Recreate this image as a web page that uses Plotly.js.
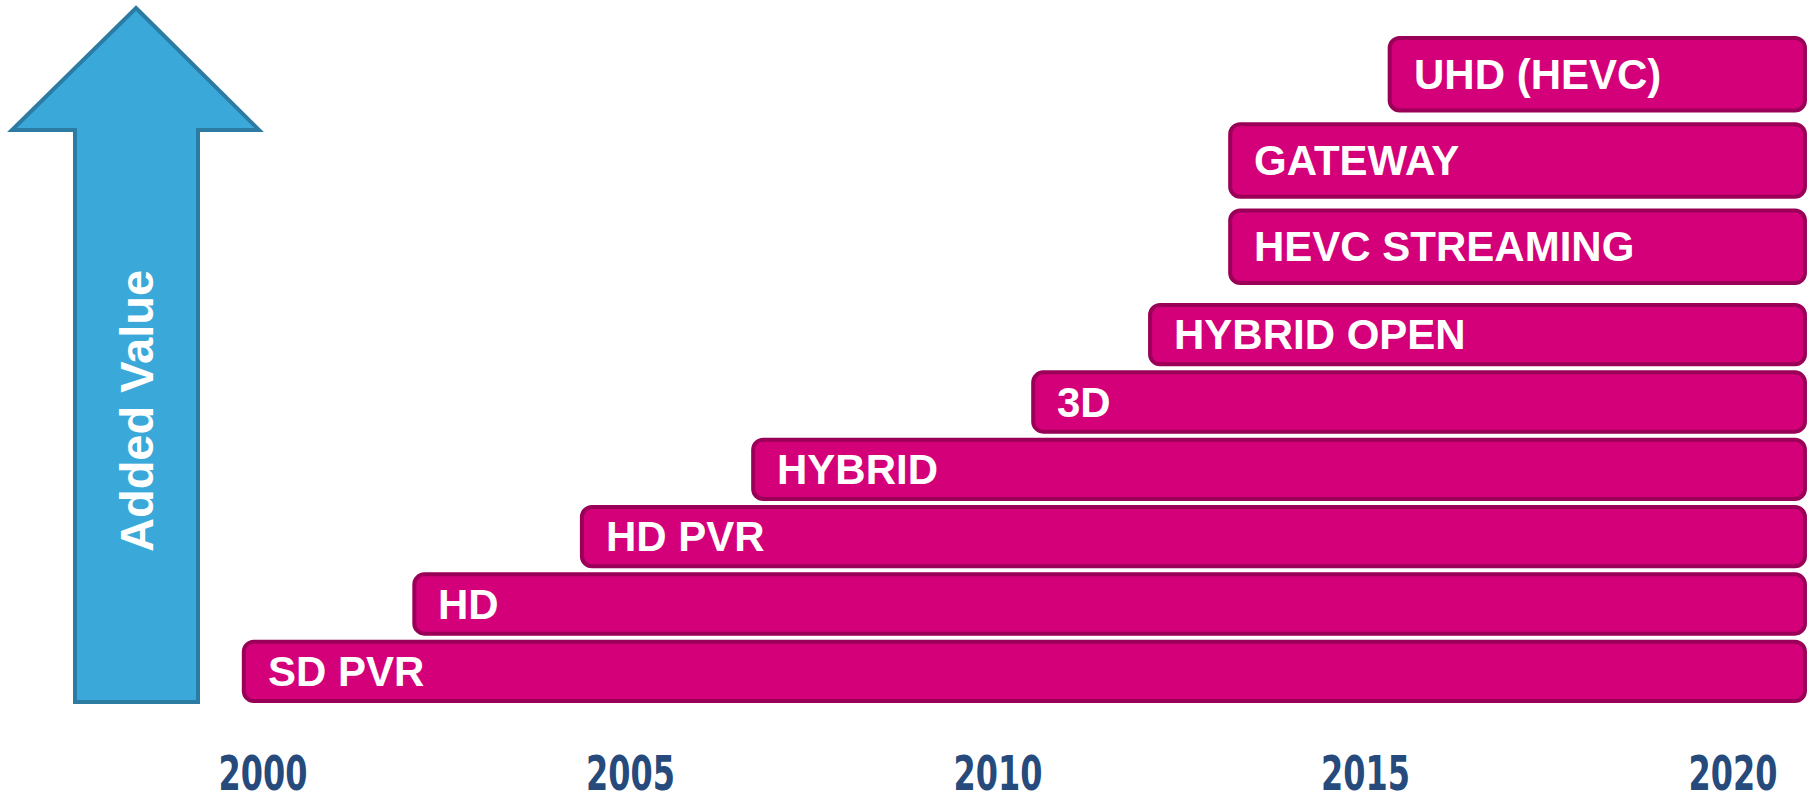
<!DOCTYPE html>
<html>
<head>
<meta charset="utf-8">
<script src="https://cdn.plot.ly/plotly-3.0.1.min.js"></script>
<style>html,body{margin:0;padding:0;background:#fff;}#chart{width:1819px;height:804px;}</style>
</head>
<body>
<div id="chart"></div>
<script>
// ---- data ----
var labels    = ['SD PVR', 'HD', 'HD PVR', 'HYBRID', '3D', 'HYBRID OPEN', 'HEVC STREAMING', 'GATEWAY', 'UHD (HEVC)'];
var startYear = [1999.74, 2002.06, 2004.34, 2006.67, 2010.48, 2012.07, 2013.16, 2013.16, 2015.33];
var endYear   = [2020.98, 2020.98, 2020.98, 2020.98, 2020.98, 2020.98, 2020.98, 2020.98, 2020.98];
var tickYears = [2000, 2005, 2010, 2015, 2020];
var axisTitle = 'Added Value';

// ---- layout helpers ----
var W = 1819, H = 804;
function px(x) { return x / W; }
function py(y) { return 1 - y / H; }

var barFill = '#D4007A', barLine = '#9B0058';
var nBottom = 6;

function makeTrace(idx, yax, width) {
  return {
    type: 'bar', orientation: 'h',
    y: idx.map(function (i) { return labels[i]; }),
    x: idx.map(function (i) { return endYear[i] - startYear[i]; }),
    base: idx.map(function (i) { return startYear[i]; }),
    xaxis: 'x', yaxis: yax, width: width,
    marker: { color: barFill, line: { color: barLine, width: 4 }, cornerradius: 10 },
    hoverinfo: 'skip', showlegend: false
  };
}
var bottomIdx = [], topIdx = [];
labels.forEach(function (l, i) { (i < nBottom ? bottomIdx : topIdx).push(i); });

var traces = [makeTrace(bottomIdx, 'y2', 0.88), makeTrace(topIdx, 'y', 0.84)];

var annotations = labels.map(function (l, i) {
  return {
    x: startYear[i], y: l, xref: 'x', yref: i < nBottom ? 'y2' : 'y',
    text: l, showarrow: false, xanchor: 'left', yanchor: 'middle', xshift: 22,
    font: { family: 'Liberation Sans, Arial, sans-serif', size: 42, color: '#ffffff', weight: 'bold' }
  };
});
annotations.push({
  x: px(136), y: py(411), xref: 'paper', yref: 'paper', text: axisTitle,
  textangle: -90, showarrow: false, xanchor: 'center', yanchor: 'middle',
  font: { family: 'Liberation Sans, Arial, sans-serif', size: 47, color: '#ffffff', weight: 'bold' }
});

var arrowPts = [[136, 8], [259, 130], [198, 130], [198, 702], [75, 702], [75, 130], [12, 130]];
var arrowPath = 'M ' + arrowPts.map(function (p) { return px(p[0]) + ',' + py(p[1]); }).join(' L ') + ' Z';

var layout = {
  width: W, height: H,
  margin: { l: 0, r: 0, t: 0, b: 0 },
  paper_bgcolor: '#ffffff', plot_bgcolor: '#ffffff',
  showlegend: false, hovermode: false,
  barmode: 'overlay',
  xaxis: {
    range: [1996.423, 2021.171], anchor: 'y2',
    tickmode: 'array', tickvals: tickYears, ticktext: tickYears.map(String),
    ticks: '', ticklabelstandoff: 36,
    tickfont: { family: 'DejaVu Sans Condensed, DejaVu Sans, sans-serif', size: 48, color: '#254A7B', weight: 'bold' },
    showgrid: false, zeroline: false, showline: false, fixedrange: true
  },
  yaxis: {
    domain: [py(290), py(31)], type: 'category',
    showticklabels: false, showgrid: false, zeroline: false, showline: false, fixedrange: true
  },
  yaxis2: {
    domain: [py(705), py(301)], type: 'category', anchor: 'x',
    showticklabels: false, showgrid: false, zeroline: false, showline: false, fixedrange: true
  },
  shapes: [{
    type: 'path', xref: 'paper', yref: 'paper', path: arrowPath,
    fillcolor: '#3BA8DA', line: { color: '#2B7BA3', width: 4 }, layer: 'below'
  }],
  annotations: annotations
};

Plotly.newPlot('chart', traces, layout, { displayModeBar: false, staticPlot: true }).then(function (gd) {
  // narrow the year labels horizontally (condensed look of the original)
  var texts = gd.querySelectorAll('.xtick text');
  texts.forEach(function (t) {
    var bb = t.getBBox();
    var cx = bb.x + bb.width / 2;
    var tr = t.getAttribute('transform') || '';
    t.setAttribute('transform', tr + ' translate(' + cx + ',0) scale(0.74,1) translate(' + (-cx) + ',0)');
  });
});
</script>
</body>
</html>
